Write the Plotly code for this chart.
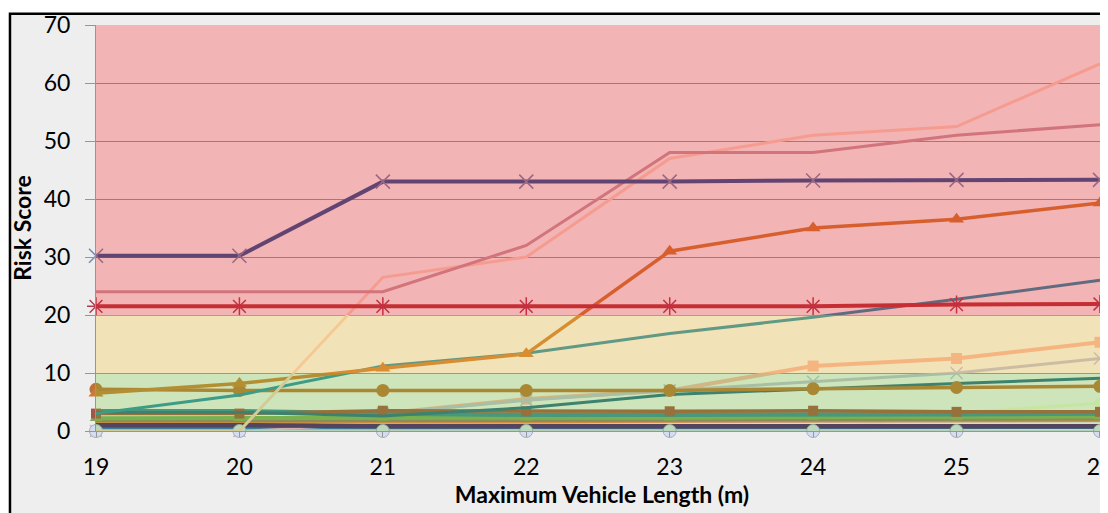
import plotly.graph_objects as go

# ---------------- data ----------------
lengths = [19, 20, 21, 22, 23, 24, 25, 26]

s_navy_x      = [30.2, 30.2, 43.0, 43.0, 43.0, 43.2, 43.3, 43.3]
s_red_star    = [21.5, 21.5, 21.5, 21.5, 21.5, 21.5, 21.8, 21.9]
s_rose        = [24.0, 24.0, 24.0, 32.0, 48.0, 48.0, 51.0, 52.8]
s_salmon      = [0.0, 0.0, 26.5, 30.0, 47.0, 51.0, 52.5, 63.3]
s_orange_tri  = [6.5, 8.2, 10.8, 13.3, 31.0, 35.0, 36.5, 39.3]
s_teal        = [3.0, 6.2, 11.2, 13.4, 16.8, 19.6, 22.7, 26.0]
s_peach_sq    = [0.0, 0.0, 3.0, 5.5, 7.0, 11.2, 12.5, 15.3]
s_grey_x      = [0.0, 0.0, 3.0, 5.3, 7.0, 8.5, 10.0, 12.5]
s_dark_teal   = [3.2, 3.2, 2.6, 4.0, 6.3, 7.3, 8.2, 9.1]
s_gold_circ   = [7.2, 7.0, 7.0, 7.0, 7.0, 7.3, 7.5, 7.7]
s_lime_circ   = [0.0, 0.0, 0.0, 0.0, 0.0, 0.0, 3.1, 4.8]
s_ice_circ    = [0.0, 0.0, 0.0, 0.0, 0.0, 0.0, 0.0, 0.0]
s_purple      = [1.0, 1.0, 0.8, 0.8, 0.8, 0.8, 0.8, 0.8]
s_blue        = [0.5, 0.5, 0.5, 0.6, 0.6, 0.6, 0.6, 0.6]
s_brown_sq    = [3.0, 3.0, 3.5, 3.4, 3.4, 3.5, 3.3, 3.3]
s_green_tri   = [2.2, 2.2, 2.3, 2.3, 2.3, 2.4, 2.4, 2.5]
s_teal_green  = [3.4, 3.4, 3.0, 2.8, 2.8, 2.8, 2.9, 3.0]
s_olive       = [1.8, 1.8, 1.8, 1.9, 1.9, 2.0, 2.0, 2.1]
s_pink        = [0.0, 0.0, 1.2, 1.4, 1.5, 1.6, 1.6, 1.7]
s_orange_low  = [1.5, 1.5, 1.6, 1.6, 1.7, 1.7, 1.8, 1.8]

y_ticks = [0, 10, 20, 30, 40, 50, 60, 70]
band_green = (0, 10)
band_yellow = (10, 20)
band_red = (20, 70)

# ---------------- figure ----------------
FONT = "Lato, 'Open Sans', sans-serif"
fig = go.Figure()


def add(y, color, width=3, symbol=None, msize=9, mcolor=None, mline=None, mlw=0):
    mode = "lines" if symbol is None else "lines+markers"
    marker = None
    if symbol is not None:
        marker = dict(symbol=symbol, size=msize, color=mcolor or color,
                      line=dict(color=mline or mcolor or color, width=mlw))
    fig.add_trace(go.Scatter(x=lengths, y=y, mode=mode,
                             line=dict(color=color, width=width),
                             marker=marker, cliponaxis=False,
                             showlegend=False, hoverinfo="skip"))


# low, dense series first
add(s_lime_circ, "rgb(225,240,205)", 3, "circle", 11)
add(s_peach_sq, "rgb(242,178,165)", 4, "square", 11)
add(s_grey_x, "rgb(185,188,210)", 3, "x-thin", 12, mline="rgb(185,188,210)", mlw=1.5)
add(s_blue, "rgb(45,100,200)", 3)
add(s_pink, "rgb(240,170,230)", 2)
add(s_orange_low, "rgb(240,125,70)", 3)
add(s_olive, "rgb(150,121,110)", 3.5)
add(s_green_tri, "rgb(125,170,95)", 4, "triangle-up", 11)
add(s_teal_green, "rgb(60,135,155)", 4.5)
add(s_brown_sq, "rgb(165,85,70)", 3.5, "square", 10)
add(s_purple, "rgb(75,25,115)", 4.5)
add(s_ice_circ, "rgb(200,212,232)", 2.5, "circle", 13, "rgb(212,222,240)", "rgb(165,172,185)", 1)
add(s_dark_teal, "rgb(43,107,137)", 3)
add(s_gold_circ, "rgb(190,114,57)", 3.5, "circle", 13)
add(s_teal, "rgb(45,140,168)", 3)
add(s_orange_tri, "rgb(202,125,58)", 3.5, "triangle-up", 13)
add(s_salmon, "rgb(242,205,188)", 3)
add(s_rose, "rgb(195,152,162)", 3)
add(s_red_star, "rgb(178,60,66)", 4, "asterisk", 15, mline="rgb(178,60,80)", mlw=1.5)
add(s_navy_x, "rgb(45,88,150)", 4, "x-thin", 14, mline="rgb(120,135,175)", mlw=1.5)

# chart frame: grey background with black border (only left/top visible)
fig.add_shape(type="rect", xref="paper", yref="paper",
              x0=-0.085, x1=1.05, y0=-0.3, y1=1.028,
              fillcolor="#eeeeee", line=dict(color="black", width=2.5),
              layer="below")

# semi-transparent risk bands drawn over the lines
for (y0, y1), col in [(band_red, "rgba(254,6,6,0.25)"),
                      (band_yellow, "rgba(255,190,22,0.25)"),
                      (band_green, "rgba(110,198,30,0.25)")]:
    fig.add_shape(type="rect", xref="paper", yref="y", x0=0, x1=1,
                  y0=y0, y1=y1, fillcolor=col, line=dict(width=0),
                  layer="above")

# the page body adds an 8px margin; the chart runs off the right edge like the source crop
fig.update_layout(
    width=1108, height=505, autosize=False,
    margin=dict(l=88, r=8, t=17, b=82),
    paper_bgcolor="white", plot_bgcolor="rgba(0,0,0,0)",
    font=dict(family=FONT, color="black"),
)
fig.update_xaxes(
    automargin=False,
    range=[19, 26.056], tickmode="array", tickvals=lengths,
    ticktext=[str(v) for v in lengths],
    tickfont=dict(size=23, family=FONT, color="black"),
    ticks="outside", ticklen=5, tickcolor="rgb(150,150,150)",
    ticklabelstandoff=10, ticklabeloverflow="allow",
    showgrid=False, zeroline=False,
    showline=True, linecolor="rgb(150,150,150)", linewidth=1,
    title=dict(text="<b>Maximum Vehicle Length (m)</b>",
               font=dict(size=23, family=FONT, color="black"), standoff=6),
)
fig.update_yaxes(
    automargin=False,
    range=[0, 70], tickmode="array", tickvals=y_ticks,
    tickfont=dict(size=23, family=FONT, color="black"),
    ticks="outside", ticklen=10, tickcolor="rgb(150,150,150)",
    ticklabelstandoff=10, ticklabeloverflow="allow",
    showgrid=True, gridcolor="rgb(150,150,150)", gridwidth=1,
    zeroline=False,
    showline=True, linecolor="rgb(150,150,150)", linewidth=1,
    title=dict(text="<b>Risk Score</b>",
               font=dict(size=23, family=FONT, color="black"), standoff=6),
)

fig.write_html("out.html")
